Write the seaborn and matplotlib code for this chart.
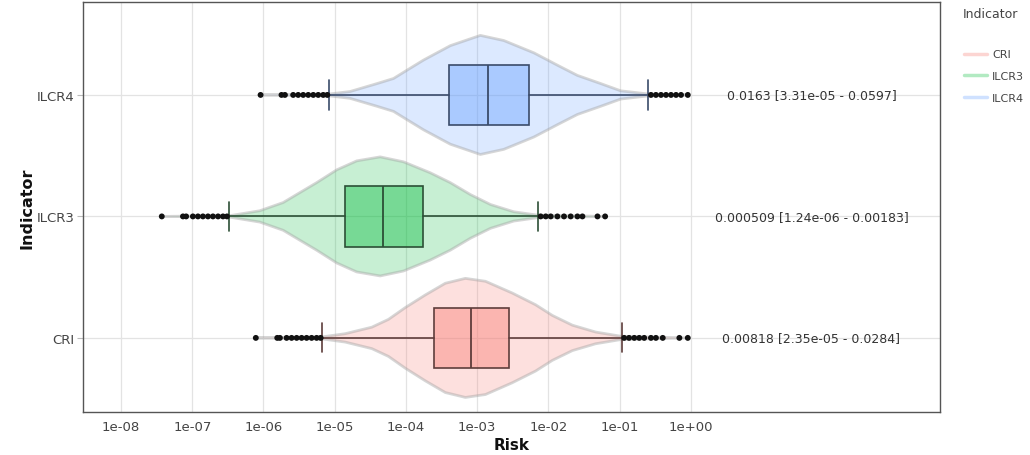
import numpy as np
import pandas as pd
import matplotlib.pyplot as plt
from matplotlib.lines import Line2D
import seaborn as sns

# indicators from top to bottom of the chart
indicators = ["ILCR4", "ILCR3", "CRI"]
legend_order = ["CRI", "ILCR3", "ILCR4"]

# box statistics (risk values)
whislo = {"ILCR4": 8.3e-06, "ILCR3": 3.26e-07, "CRI": 6.53e-06}
q1 = {"ILCR4": 4.07e-04, "ILCR3": 1.40e-05, "CRI": 2.51e-04}
median = {"ILCR4": 1.43e-03, "ILCR3": 4.74e-05, "CRI": 8.22e-04}
q3 = {"ILCR4": 5.37e-03, "ILCR3": 1.71e-04, "CRI": 2.82e-03}
whishi = {"ILCR4": 0.251, "ILCR3": 7.24e-03, "CRI": 0.107}

# violin outline: risk value and relative density
ilcr4_x = [9.1e-07, 8.6e-06, 1.64e-05, 3.91e-05, 6.7e-05, 1.03e-04, 1.77e-04, 4.21e-04,
           1.11e-03, 2.37e-03, 6.27e-03, 0.0134, 0.0256, 0.0546, 0.104, 0.248, 0.91]
ilcr4_d = [0, 0.017, 0.057, 0.19, 0.276, 0.414, 0.586, 0.828,
           1.0, 0.914, 0.707, 0.5, 0.328, 0.19, 0.069, 0.017, 0]
ilcr3_x = [3.73e-08, 3.35e-07, 8.87e-07, 1.89e-06, 3.24e-06, 5.57e-06, 1.07e-05, 2.04e-05,
           4.35e-05, 9.25e-05, 2.2e-04, 4.21e-04, 8.05e-04, 1.54e-03, 3.27e-03, 7.0e-03, 0.0627]
ilcr3_d = [0, 0.012, 0.095, 0.233, 0.4, 0.567, 0.783, 0.933,
           1.0, 0.917, 0.733, 0.567, 0.367, 0.2, 0.078, 0.022, 0]
cri_x = [7.8e-07, 6.56e-06, 1.40e-05, 3.32e-05, 5.69e-05, 9.77e-05, 1.87e-04, 3.58e-04,
         6.84e-04, 1.31e-03, 3.11e-03, 6.62e-03, 0.0114, 0.0218, 0.0463, 0.104, 0.908]
cri_d = [0, 0.016, 0.07, 0.18, 0.311, 0.508, 0.721, 0.918,
         1.0, 0.951, 0.754, 0.557, 0.377, 0.213, 0.098, 0.028, 0]
violin_x = {"ILCR4": ilcr4_x, "ILCR3": ilcr3_x, "CRI": cri_x}
violin_d = {"ILCR4": ilcr4_d, "ILCR3": ilcr3_d, "CRI": cri_d}

# outliers
ilcr4_out = [9.1e-07, 1.79e-06, 2.0e-06, 2.61e-06, 3.07e-06, 3.61e-06, 4.25e-06, 5.0e-06,
             5.87e-06, 6.9e-06, 7.87e-06,
             0.276, 0.324, 0.382, 0.449, 0.528, 0.621, 0.73, 0.908]
ilcr3_out = [3.73e-08, 7.4e-08, 8.2e-08, 1.02e-07, 1.2e-07, 1.41e-07, 1.66e-07, 1.95e-07,
             2.3e-07, 2.7e-07, 3.07e-07,
             7.8e-03, 9.2e-03, 0.0108, 0.0134, 0.0166, 0.0206, 0.0256, 0.0301, 0.049, 0.0627]
cri_out = [7.8e-07, 1.56e-06, 1.7e-06, 2.11e-06, 2.48e-06, 2.92e-06, 3.43e-06, 4.03e-06,
           4.74e-06, 5.57e-06, 6.35e-06,
           0.116, 0.136, 0.161, 0.189, 0.222, 0.276, 0.324, 0.404, 0.692, 0.908]
outliers = {"ILCR4": ilcr4_out, "ILCR3": ilcr3_out, "CRI": cri_out}

# mean [lower - upper] labels on the right
summary = {"ILCR4": "0.0163 [3.31e-05 - 0.0597]",
           "ILCR3": "0.000509 [1.24e-06 - 0.00183]",
           "CRI": "0.00818 [2.35e-05 - 0.0284]"}

tick_values = [1e-08, 1e-07, 1e-06, 1e-05, 1e-04, 1e-03, 1e-02, 1e-01, 1e+00]
tick_labels = ["1e-08", "1e-07", "1e-06", "1e-05", "1e-04", "1e-03", "1e-02", "1e-01", "1e+00"]

base = {"CRI": "#F8766D", "ILCR3": "#00BA38", "ILCR4": "#619CFF"}
edge = {"CRI": "#5E3D3B", "ILCR3": "#2C4F36", "ILCR4": "#3A4B6A"}

sns.set_theme(style="whitegrid")
plt.rcParams["font.family"] = ["DejaVu Sans"]

fig = plt.figure(figsize=(10.3, 4.56), dpi=100)
ax = fig.add_axes([83 / 1030, 1 - 413 / 456, (940 - 83) / 1030, 410 / 456])
ax.set_xscale("log")
ax.set_axisbelow(True)

half = 0.49
for pos, ind in enumerate(indicators):
    xs = np.array(violin_x[ind])
    d = np.array(violin_d[ind]) * half
    ax.fill_between(xs, pos - d, pos + d, facecolor=base[ind], alpha=0.22,
                    edgecolor="none", zorder=2)
    ax.plot(np.r_[xs, xs[::-1]], np.r_[pos - d, (pos + d)[::-1]],
            color="#A5A5A5", alpha=0.45, lw=2, solid_joinstyle="round", zorder=2.1)

    stats = [dict(med=median[ind], q1=q1[ind], q3=q3[ind],
                  whislo=whislo[ind], whishi=whishi[ind], fliers=[])]
    ax.bxp(stats, positions=[pos], widths=0.5, vert=False, patch_artist=True,
           showfliers=False, capwidths=0.24,
           boxprops=dict(facecolor=base[ind] + "66", edgecolor=edge[ind], linewidth=1.2),
           whiskerprops=dict(color=edge[ind], linewidth=1.2),
           capprops=dict(color=edge[ind], linewidth=1.2),
           medianprops=dict(color=edge[ind], linewidth=1.3),
           manage_ticks=False, zorder=3)

    ax.text(49.4, pos, summary[ind], ha="center", va="center", fontsize=9,
            color="#333333")

out_df = pd.DataFrame([(v, pos) for pos, ind in enumerate(indicators) for v in outliers[ind]],
                      columns=["risk", "pos"])
sns.scatterplot(data=out_df, x="risk", y="pos", color="#111111", s=18,
                edgecolor="none", ax=ax, zorder=4, legend=False)

ax.set_xlim(2.92e-09, 3162)
ax.set_ylim(2.61, -0.765)
ax.set_xticks(tick_values)
ax.set_xticklabels(tick_labels)
ax.xaxis.set_minor_locator(plt.NullLocator())
ax.set_yticks(range(len(indicators)))
ax.set_yticklabels(indicators)
ax.tick_params(axis="both", labelsize=9.5, colors="#444444")
ax.tick_params(axis="y", length=4, width=0.8, color="#BBBBBB", pad=2, left=True)
ax.tick_params(axis="x", length=0, pad=6)
ax.grid(True, color="#E3E3E3", linewidth=0.9)
for s in ax.spines.values():
    s.set_color("#555555")
    s.set_linewidth(1.0)

ax.set_xlabel("Risk", fontsize=11, fontweight="bold", color="#111111", labelpad=3)
ax.set_ylabel("Indicator", fontsize=11.5, fontweight="bold", color="#111111", labelpad=2)

fig.text(963 / 1030, 1 - 15 / 456, "Indicator", fontsize=9, color="#444444", va="center")
handles = [Line2D([], [], color=base[k], alpha=0.3, lw=2.5) for k in legend_order]
fig.legend(handles, legend_order, loc="upper left", bbox_to_anchor=(960 / 1030, 1 - 46 / 456),
           frameon=False, fontsize=8, handlelength=2.0, handletextpad=0.5,
           labelspacing=1.05, borderaxespad=0, labelcolor="#444444")

plt.savefig("out.png", dpi=100)
